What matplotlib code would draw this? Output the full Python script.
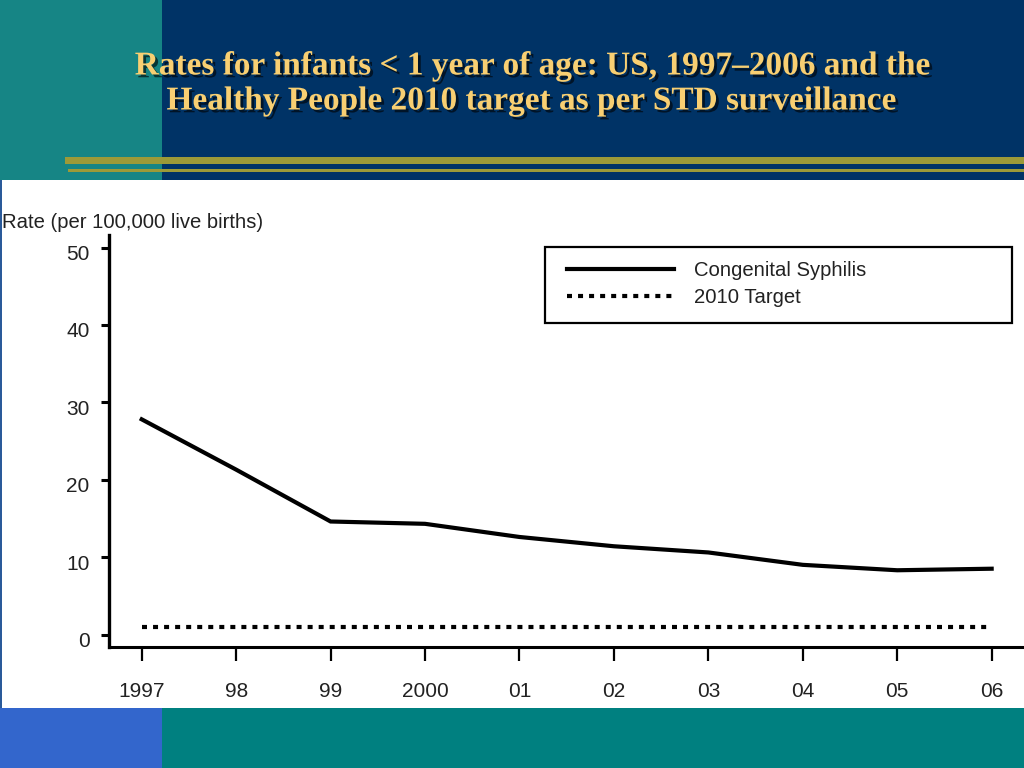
import numpy as np
import matplotlib
matplotlib.use('Agg')
from matplotlib import pyplot as plt
import matplotlib.patches as mpatches
import matplotlib.patheffects as pe
import matplotlib.transforms as mtransforms

# data
years = [1997, 1998, 1999, 2000, 2001, 2002, 2003, 2004, 2005, 2006]
year_labels = ['1997', '98', '99', '2000', '01', '02', '03', '04', '05', '06']
syphilis = [27.8, 21.3, 14.6, 14.3, 12.6, 11.4, 10.6, 9.0, 8.3, 8.5]
target = [1.0] * len(years)
y_ticks = [0, 10, 20, 30, 40, 50]

W, H = 1024, 768
navy = '#003366'
teal = '#008080'
teal_top = '#168585'
blue = '#3366cc'
gold = '#9c9a38'
title_col = '#f8cf72'


def px(x, y, w, h):
    # pixel box (top-left origin) -> figure fraction rect
    return (x / W, 1 - (y + h) / H, w / W, h / H)


fig = plt.figure(figsize=(W / 100, H / 100), dpi=100)
fig.patch.set_facecolor('white')

## slide background blocks
blocks = [
    (0, 0, 1024, 180, navy),
    (0, 0, 162, 180, teal_top),
    (0, 708, 1024, 60, teal),
    (0, 708, 162, 60, blue),
    (0, 180, 2, 528, '#2a5a9a'),
    (65, 157, 959, 7, gold),
    (68, 169, 956, 3, gold),
]
for bx, by, bw, bh, bc in blocks:
    r = px(bx, by, bw, bh)
    fig.patches.append(mpatches.Rectangle((r[0], r[1]), r[2], r[3],
                                          transform=fig.transFigure,
                                          facecolor=bc, edgecolor='none', zorder=0))

## title
shadow = [pe.withSimplePatchShadow(offset=(2, -2), shadow_rgbFace='black', alpha=0.6)]
fig.text(533 / W, 1 - 66 / H, 'Rates for infants < 1 year of age: US, 1997\u20132006 and the',
         ha='center', va='center', color=title_col, fontsize=24, fontweight='bold',
         family='Liberation Serif', path_effects=shadow)
fig.text(532 / W, 1 - 101 / H, 'Healthy People 2010 target as per STD surveillance',
         ha='center', va='center', color=title_col, fontsize=24, fontweight='bold',
         family='Liberation Serif', path_effects=shadow)

## chart axes (positioned to match the slide)
x_left = 1997 - (141.7 - 109) / 94.44
x_right = 1997 + (1024 - 141.7) / 94.44
y_bot = (634.5 - 647) / 7.74
y_top = (634.5 - 235) / 7.74

ax = fig.add_axes([109 / W, 1 - 647 / H, (W - 109) / W, (647 - 235) / H])
ax.set_facecolor('none')
ax.set_zorder(2)
ax.plot(years, syphilis, color='black', lw=3, solid_joinstyle='miter',
        label='Congenital Syphilis')
ax.plot(years, target, color='black', lw=3, linestyle=(0, (1.2, 1.45)),
        dash_capstyle='butt', label='2010 Target')
ax.set_xlim(x_left, x_right)
ax.set_ylim(y_bot, y_top)

for s in ['top', 'right']:
    ax.spines[s].set_visible(False)
ax.spines['left'].set_linewidth(2.4)
ax.spines['bottom'].set_linewidth(2.2)

ax.set_xticks(years)
ax.set_xticklabels(year_labels)
ax.set_yticks(y_ticks)
ax.tick_params(axis='y', direction='out', length=6, width=2.2, pad=8,
               labelsize=15, labelcolor='#222222')
ax.tick_params(axis='x', direction='out', length=10, width=1.6, pad=15,
               labelsize=15, labelcolor='#222222')
for t in ax.get_xticklabels() + ax.get_yticklabels():
    t.set_family('Liberation Sans')
## y labels sit a little below their ticks on the slide
shift = mtransforms.ScaledTranslation(0, -5 / 100, fig.dpi_scale_trans)
for t in ax.get_yticklabels():
    t.set_transform(t.get_transform() + shift)

fig.text(2 / W, 1 - 222 / H, 'Rate (per 100,000 live births)', ha='left', va='center',
         fontsize=14.6, color='#222222', family='Liberation Sans')

## legend box
r = px(545, 247, 467, 76)
fig.patches.append(mpatches.Rectangle((r[0], r[1]), r[2], r[3], transform=fig.transFigure,
                                      facecolor='white', edgecolor='black', lw=1.6, zorder=1))
leg = ax.legend(loc='upper left', bbox_to_anchor=(566.7 / W, 1 - 261 / H),
                bbox_transform=fig.transFigure, frameon=False, borderpad=0,
                borderaxespad=0, handlelength=5.3, handletextpad=1.0,
                labelspacing=0.38, prop={'family': 'Liberation Sans', 'size': 14.6})
for t in leg.get_texts():
    t.set_color('#222222')

fig.savefig('out.png', dpi=100)
